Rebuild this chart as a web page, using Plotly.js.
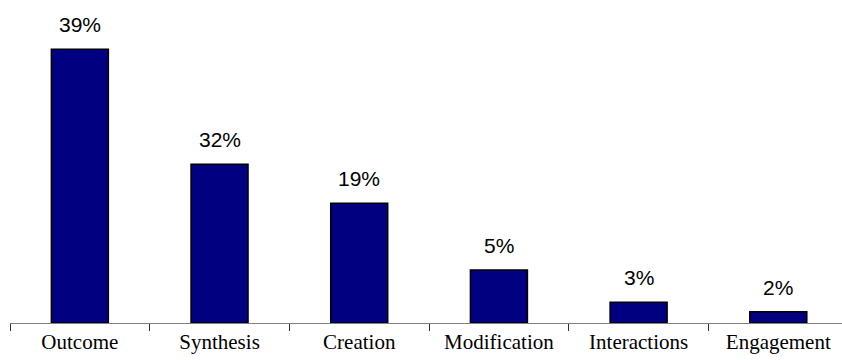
<!DOCTYPE html>
<html>
<head>
<meta charset="utf-8">
<script src="https://cdn.plot.ly/plotly-3.0.1.min.js"></script>
<style>html,body{margin:0;padding:0;background:#fff;}#chart{width:842px;height:360px;}</style>
</head>
<body>
<div id="chart"></div>
<script>
// Categories along the x axis
var categories = ["Outcome", "Synthesis", "Creation", "Modification", "Interactions", "Engagement"];
// Bar heights as drawn in the picture (percent scale)
var barHeights = [39.0, 22.6, 17.05, 7.55, 2.95, 1.6];
// Value labels printed above each bar
var valueLabels = ["39%", "32%", "19%", "5%", "3%", "2%"];

var trace = {
  type: "bar",
  x: categories,
  y: barHeights,
  width: 0.408,
  marker: {color: "#000080", line: {color: "#000000", width: 1.5}},
  hoverinfo: "none"
};

var annotations = categories.map(function (c, i) {
  return {
    x: c, y: barHeights[i], xref: "x", yref: "y",
    text: valueLabels[i], showarrow: false,
    yanchor: "bottom", yshift: 11,
    font: {family: "Liberation Sans", size: 21, color: "#000"}
  };
});

var layout = {
  width: 842, height: 360,
  margin: {l: 10, r: 0, t: 0, b: 37, pad: 0},
  paper_bgcolor: "#fff", plot_bgcolor: "#fff",
  showlegend: false,
  xaxis: {
    type: "category",
    range: [-0.5, 5.456],
    showline: true, linecolor: "#808080", linewidth: 1,
    ticks: "outside", ticklen: 7, tickcolor: "#333", tickwidth: 1,
    tickson: "boundaries",
    showgrid: false, zeroline: false,
    tickfont: {family: "Liberation Serif", size: 21, color: "#000"},
    fixedrange: true
  },
  yaxis: {
    visible: false, range: [0, 46], showgrid: false, zeroline: false, fixedrange: true
  },
  annotations: annotations
};

Plotly.newPlot("chart", [trace], layout, {displayModeBar: false, staticPlot: true});
</script>
</body>
</html>
